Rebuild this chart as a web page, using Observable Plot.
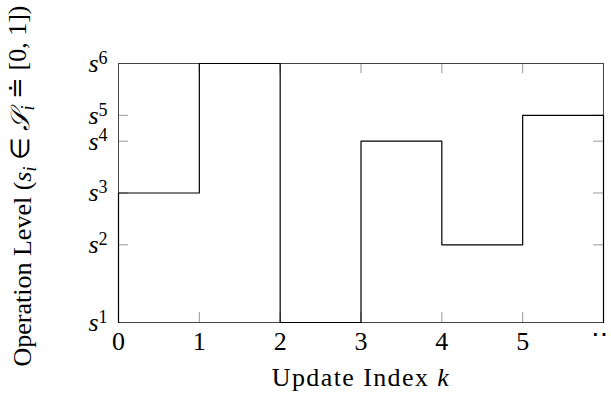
<!DOCTYPE html>
<html><head><meta charset="utf-8">
<script src="https://cdn.jsdelivr.net/npm/d3@7"></script>
<script src="https://cdn.jsdelivr.net/npm/@observablehq/plot@0.6"></script>
<style>body{margin:0;background:#fff}</style>
</head><body><div id="chart"></div>
<script>
// Data
const updateIndex = [0, 1, 2, 3, 4, 5];
const operationLevel = [0.5, 1.0, 0.0, 0.7, 0.3, 0.8];
const xEnd = 6;
const xTickValues = [0, 1, 2, 3, 4, 5, 6];
const xTickLabels = ["0", "1", "2", "3", "4", "5", "⋯"];
const yTickValues = [0, 0.3, 0.5, 0.7, 0.8, 1.0];
const yTickExponents = ["1", "2", "3", "4", "5", "6"];

const outline = [
  {k: updateIndex[0], v: 0},
  ...updateIndex.map((k, i) => ({k, v: operationLevel[i]})),
  {k: xEnd, v: operationLevel[operationLevel.length - 1]},
  {k: xEnd, v: 0}
];

const FONT = "'Liberation Serif', serif";
const tickColor = "#999999";
const fs = 26;
const tl = 10;
const W = 611, H = 400, mL = 118, mR = 8, mT = 63, mB = 78;
const plotW = W - mL - mR, plotH = H - mT - mB;

const plot = Plot.plot({
  width: W, height: H,
  marginLeft: mL, marginRight: mR, marginTop: mT, marginBottom: mB,
  style: {fontFamily: FONT, fontSize: fs + "px", color: "#000", background: "#fff"},
  x: {domain: [0, xEnd]},
  y: {domain: [0, 1]},
  marks: [
    // inward tick marks on all four sides
    Plot.tickX(xTickValues, {x: d => d, insetTop: plotH - tl, stroke: tickColor, strokeWidth: 1}),
    Plot.tickX(xTickValues, {x: d => d, insetBottom: plotH - tl, stroke: tickColor, strokeWidth: 1}),
    Plot.tickY(yTickValues, {y: d => d, insetRight: plotW - tl, stroke: tickColor, strokeWidth: 1}),
    Plot.tickY(yTickValues, {y: d => d, insetLeft: plotW - tl, stroke: tickColor, strokeWidth: 1}),
    Plot.axisX(xTickValues, {anchor: "bottom", tickSize: 0, tickPadding: 9, tickFormat: d => xTickLabels[xTickValues.indexOf(d)], label: null, fontSize: fs}),
    Plot.axisY(yTickValues, {anchor: "left", tickSize: 0, tickPadding: 11, tickFormat: d => "s" + yTickExponents[yTickValues.indexOf(d)], label: null, fontSize: fs}),
    Plot.frame({stroke: "#444", strokeWidth: 1}),
    Plot.line(outline, {x: "k", y: "v", curve: "step-after", stroke: "#000", strokeWidth: 1.2})
  ]
});

document.getElementById("chart").appendChild(plot);
const svg = d3.select(plot);

// superscript y tick labels
svg.selectAll('g[aria-label="y-axis tick label"] text').each(function() {
  const t = d3.select(this);
  const s = t.text();
  const exp = s.slice(1);
  t.text(null);
  t.append("tspan").attr("font-style", "italic").text("s");
  t.append("tspan").attr("font-size", "18px").attr("dy", "-0.45em").text(exp);
});

// ellipsis tick position
svg.selectAll('g[aria-label="x-axis tick label"] text').each(function() {
  const t = d3.select(this);
  if (t.text() === "⋯") t.attr("dy", "-0.25em");
});

// x axis label
const xl = svg.append("text")
  .attr("x", 361).attr("y", 386)
  .attr("text-anchor", "middle")
  .attr("letter-spacing", "1.4px")
  .attr("font-family", FONT).attr("font-size", fs);
xl.append("tspan").text("Update Index ");
xl.append("tspan").attr("font-style", "italic").text("k");

// y axis label
const yl = svg.append("text")
  .attr("transform", "translate(31,186) rotate(-90)")
  .attr("text-anchor", "middle")
  .attr("font-family", FONT).attr("font-size", fs);
yl.append("tspan").text("Operation Level (");
yl.append("tspan").attr("font-style", "italic").text("s");
yl.append("tspan").attr("font-style", "italic").attr("font-size", "18px").attr("dy", "0.3em").text("i");
yl.append("tspan").attr("dy", "-0.3em").text(" ∈ ");
yl.append("tspan").attr("font-style", "italic").text("𝒮");
yl.append("tspan").attr("font-style", "italic").attr("font-size", "18px").attr("dy", "0.3em").text("i");
yl.append("tspan").attr("dy", "-0.3em").text(" ≐ [0, 1])");
</script>
</body></html>
